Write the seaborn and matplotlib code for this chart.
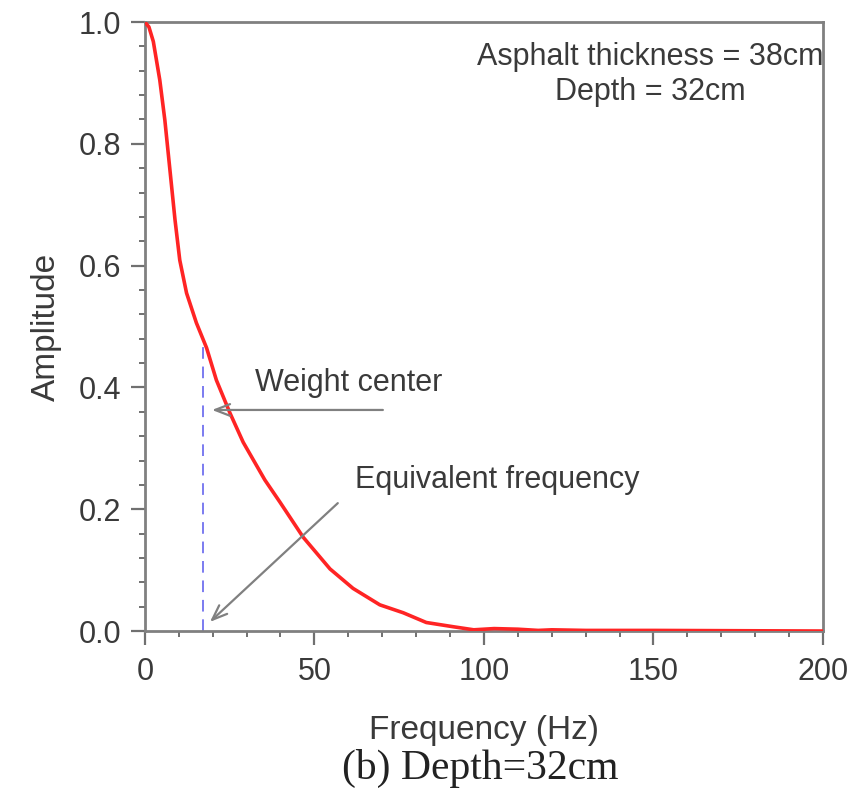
import matplotlib
matplotlib.use("Agg")
import matplotlib.pyplot as plt
from matplotlib.ticker import MultipleLocator, FormatStrFormatter
import seaborn as sns
import pandas as pd

# Data
freq = [0, 1.2, 2.5, 4.4, 5.9, 7.4, 8.9, 10.3, 12.3, 15.2, 18.2, 21.1, 25.1, 29.0,
        35.4, 39.8, 46.7, 54.6, 61.4, 69.3, 76.2, 83.0, 91.0, 97.0, 103.0,
        110.0, 116.0, 120.0, 130.0, 150.0, 175.0, 200.0]
amp = [1.0, 0.992, 0.968, 0.905, 0.839, 0.757, 0.675, 0.609, 0.555, 0.506, 0.465,
       0.412, 0.358, 0.310, 0.248, 0.212, 0.154, 0.102, 0.070, 0.043, 0.030,
       0.014, 0.007, 0.002, 0.004, 0.003, 0.001, 0.002, 0.001, 0.001, 0.0005, 0.0]
weight_center_freq = 17.1
weight_center_amp = 0.47
x_ticks = [0, 50, 100, 150, 200]
y_ticks = [0.0, 0.2, 0.4, 0.6, 0.8, 1.0]
info_text = "Asphalt thickness = 38cm\nDepth = 32cm"
caption = "(b) Depth=32cm"

df = pd.DataFrame({"Frequency (Hz)": freq, "Amplitude": amp})

sns.set_theme(style="ticks")
plt.rcParams["font.family"] = ["Liberation Sans", "DejaVu Sans"]

fig = plt.figure(figsize=(8.52, 8.01), dpi=100)
ax = fig.add_axes([0.170, 0.2122, 0.796, 0.7603])

sns.lineplot(data=df, x="Frequency (Hz)", y="Amplitude", ax=ax,
             color="#ff2424", linewidth=2.6, zorder=3)

ax.plot([weight_center_freq, weight_center_freq], [0, weight_center_amp],
        color="#7b7bf0", linestyle=(0, (6, 4)), linewidth=1.4, zorder=2)

ax.set_xlim(0, 200)
ax.set_ylim(0, 1.0)
ax.set_xticks(x_ticks)
ax.set_yticks(y_ticks)
ax.xaxis.set_minor_locator(MultipleLocator(10))
ax.yaxis.set_minor_locator(MultipleLocator(0.04))
ax.yaxis.set_major_formatter(FormatStrFormatter("%.1f"))

txtcol = "#3a3a3a"
ax.tick_params(which="major", direction="out", length=10, width=1.6,
               color="#707070", labelsize=22, labelcolor=txtcol)
ax.tick_params(axis="y", which="major", pad=7)
ax.tick_params(axis="x", which="major", pad=9)
ax.tick_params(which="minor", direction="out", length=4, width=1.4, color="#707070")
for s in ax.spines.values():
    s.set_visible(True)
    s.set_color("#808080")
    s.set_linewidth(2.0)

ax.set_xlabel("Frequency (Hz)", fontsize=24, color=txtcol, labelpad=20)
ax.set_ylabel("Amplitude", fontsize=24, color=txtcol, labelpad=12)

ax.text(149, 0.914, info_text, ha="center", va="center", fontsize=22,
        color=txtcol, linespacing=1.2)

arrow_props = dict(arrowstyle="->,head_length=0.9,head_width=0.35",
                   color="#808080", lw=1.6, shrinkA=0, shrinkB=0)
ax.annotate("", xy=(19.8, 0.363), xytext=(70.2, 0.363), arrowprops=arrow_props, zorder=4)
ax.text(60, 0.407, "Weight center", ha="center", va="center", fontsize=22, color=txtcol)
ax.annotate("", xy=(19.2, 0.015), xytext=(56.9, 0.21), arrowprops=arrow_props, zorder=4)
ax.text(104, 0.248, "Equivalent frequency", ha="center", va="center", fontsize=22, color=txtcol)

fig.text(0.564, 0.040, caption, ha="center", va="center", fontsize=30,
         family=["Liberation Serif", "DejaVu Serif"], color="#222222")

fig.savefig("out.png", dpi=100)
